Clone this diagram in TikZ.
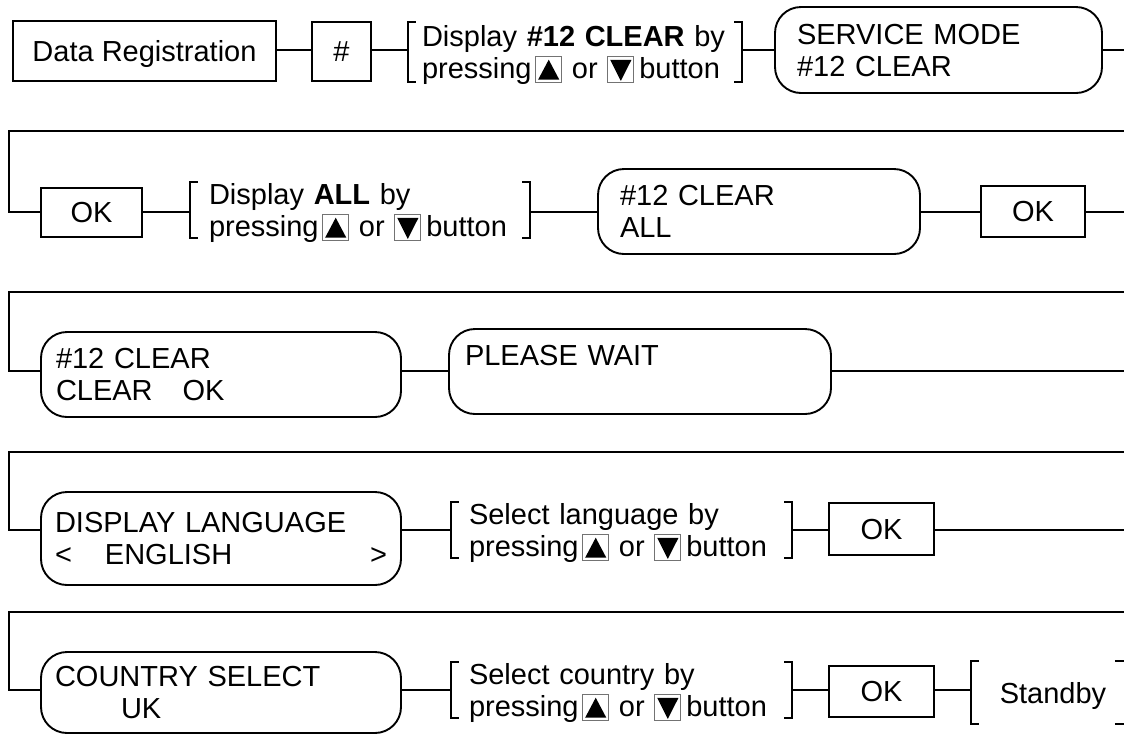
\documentclass[tikz,border=0pt]{standalone}
\usepackage{fontspec}
\setmainfont{Liberation Sans}
\usetikzlibrary{calc}
\newcommand\mfs{\fontsize{14.5pt}{16pt}\selectfont}
\newcommand\btnup{\tikz[baseline=0pt]{\draw[line width=0.5pt,black!55] (0pt,-2pt) rectangle (13pt,10.9pt); \fill[black] (1.2pt,-0.6pt) -- (11.8pt,-0.6pt) -- (6.5pt,9.4pt) -- cycle;}}
\newcommand\btndn{\tikz[baseline=0pt]{\draw[line width=0.5pt,black!55] (0pt,-2pt) rectangle (13pt,10.9pt); \fill[black] (1.2pt,9.3pt) -- (11.8pt,9.3pt) -- (6.5pt,-1.2pt) -- cycle;}}
\newcommand\prs{\mbox{pressing\hspace{1.8pt}\btnup{} or \btndn\hspace{2.5pt}button}}
\begin{document}
\begin{tikzpicture}[x=0.5pt,y=-0.5pt,line width=0.95pt,
  sq/.style={draw,rectangle,inner sep=0pt,font=\mfs,text depth=0pt},
  rb/.style={draw,rectangle,rounded corners=13pt,inner ysep=0pt,font=\mfs,align=left,text depth=16pt},
  br/.style={rectangle,inner ysep=0pt,font=\mfs,align=left,text depth=16pt}]
\useasboundingbox (0,0) rectangle (1124,735);
% row reference lines
\coordinate (r1) at (0,50);
\coordinate (r2) at (0,212);
\coordinate (r3) at (0,371);
\coordinate (r4) at (0,530);
\coordinate (r5) at (0,690);
\coordinate (e1) at (1124,50);
\coordinate (s2) at (1124,131); \coordinate (t2) at (9,131); \coordinate (e2) at (1124,212);
\coordinate (s3) at (1124,292); \coordinate (t3) at (9,292); \coordinate (e3) at (1124,371);
\coordinate (s4) at (1124,452); \coordinate (t4) at (9,452); \coordinate (e4) at (1124,530);
\coordinate (s5) at (1124,612); \coordinate (t5) at (9,612);
% row 1
\node[sq,minimum width=131.5pt,minimum height=30pt] (dr) at (144.5,51) {Data Registration};
\node[sq,minimum width=29.5pt,minimum height=29.5pt] (hash) at (341.5,51.5) {\#};
\node[br,minimum height=30pt,text width=153pt,inner xsep=7pt] (b1) at (575,52) {Display \textbf{\#12 CLEAR} by\\\prs};
\node[rb,minimum height=43pt,text width=141.5pt,inner xsep=11pt] (sm) at (938.5,50) {SERVICE MODE\\\#12 CLEAR};
% row 2
\node[sq,minimum width=50.5pt,minimum height=24.5pt] (ok1) at (91.5,212.5) {OK};
\node[br,minimum height=28pt,text width=151pt,inner xsep=9.5pt] (b2) at (360,210) {Display \textbf{ALL} by\\\prs};
\node[rb,minimum height=42.5pt,text width=139pt,inner xsep=11pt] (ca) at (759,211.5) {\#12 CLEAR\\ALL};
\node[sq,minimum width=52pt,minimum height=25.5pt] (ok2) at (1033,211.5) {OK};
% row 3
\node[rb,minimum height=42.5pt,text width=165pt,inner xsep=7.5pt] (cc) at (221,374.5) {\#12 CLEAR\\CLEAR\hspace{15pt}OK};
\node[rb,minimum height=42.5pt,text width=175pt,inner xsep=8pt] (pw) at (640,371.5) {PLEASE WAIT\\\mbox{}};
% row 4
\node[rb,minimum height=46.5pt,text width=166pt,inner xsep=7pt] (dl) at (221,538.5) {DISPLAY LANGUAGE\\\makebox[166pt][l]{<\hspace{16.5pt}ENGLISH\hfill>}};
\node[br,minimum height=28pt,text width=152.5pt,inner xsep=9pt] (b4) at (621.5,530) {Select language by\\\prs};
\node[sq,minimum width=52.5pt,minimum height=26pt] (ok4) at (881.5,529) {OK};
% row 5
\node[rb,minimum height=40.5pt,text width=166pt,inner xsep=7pt] (cs) at (221,692.5) {COUNTRY SELECT\\\hspace*{33pt}UK};
\node[br,minimum height=28pt,text width=152.5pt,inner xsep=9pt] (b5) at (621.5,690) {Select country by\\\prs};
\node[sq,minimum width=52.5pt,minimum height=25.5pt] (ok5) at (881.5,691.5) {OK};
\node[br,minimum width=76pt,minimum height=30.5pt,text depth=0pt,inner xsep=0pt] (sb) at (1048,692.5) {\hspace*{5pt}Standby};
% brackets
\foreach \n in {b1,b2,b4,b5,sb}{\draw (\n.north west) ++(8,0) -- ++(-8,0) -- (\n.south west) -- ++(8,0);}
\foreach \n in {b1,b2,b4,b5}{\draw (\n.north east) ++(-8,0) -- ++(8,0) -- (\n.south east) -- ++(-8,0);}
\draw (sb.north east) ++(-10,0) -- (sb.north east);
\draw (sb.south east) ++(-10,0) -- (sb.south east);
% connectors
\draw (dr.east |- r1) -- (hash.west |- r1);
\draw (hash.east |- r1) -- (b1.west |- r1);
\draw (b1.east |- r1) -- (sm.west |- r1);
\draw (sm.east |- r1) -- (e1);
\draw (s2) -- (t2) |- (ok1.west |- r2);
\draw (ok1.east |- r2) -- (b2.west |- r2);
\draw (b2.east |- r2) -- (ca.west |- r2);
\draw (ca.east |- r2) -- (ok2.west |- r2);
\draw (ok2.east |- r2) -- (e2);
\draw (s3) -- (t3) |- (cc.west |- r3);
\draw (cc.east |- r3) -- (pw.west |- r3);
\draw (pw.east |- r3) -- (e3);
\draw (s4) -- (t4) |- (dl.west |- r4);
\draw (dl.east |- r4) -- (b4.west |- r4);
\draw (b4.east |- r4) -- (ok4.west |- r4);
\draw (ok4.east |- r4) -- (e4);
\draw (s5) -- (t5) |- (cs.west |- r5);
\draw (cs.east |- r5) -- (b5.west |- r5);
\draw (b5.east |- r5) -- (ok5.west |- r5);
\draw (ok5.east |- r5) -- (sb.west |- r5);
\end{tikzpicture}
\end{document}
